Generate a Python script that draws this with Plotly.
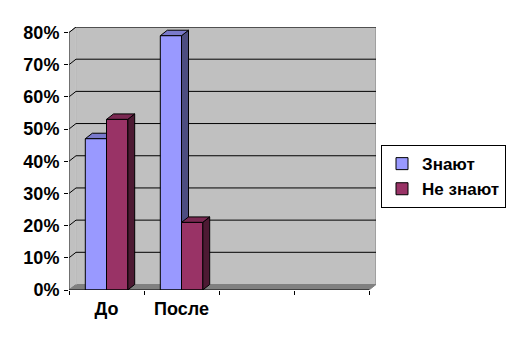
import plotly.graph_objects as go

categories = ["До", "После", "", ""]
series_names = ["Знают", "Не знают"]
znayut = [47, 79, None, None]
ne_znayut = [53, 21, None, None]
y_ticks = [0, 10, 20, 30, 40, 50, 60, 70, 80]
y_tick_labels = [f"{v}%" for v in y_ticks]

front_colors = ["#9999FF", "#993366"]
side_colors = ["#4D4D80", "#4D1A33"]
top_colors = ["#7A7ACC", "#7A2952"]

n = len(categories)
xs = [i + 0.5 for i in range(n)]
ymax = max(y_ticks)
DX = 7 / 75.0          # depth offset in x data units
DY = 5.5 / 32.19 * 10  # depth offset in y data units
BARGAP = 0.435
groupw = 1 - BARGAP
bw = groupw / 2

fig = go.Figure()
for k, (name, vals) in enumerate(zip(series_names, [znayut, ne_znayut])):
    fig.add_trace(go.Bar(
        x=xs, y=vals, name=name,
        marker=dict(color=front_colors[k], line=dict(color="black", width=1)),
    ))

shapes = []
# back wall
shapes.append(dict(type="rect", xref="x", yref="y", x0=DX, x1=n + DX, y0=DY, y1=ymax + DY,
                   fillcolor="#C0C0C0", line=dict(color="#808080", width=1), layer="below"))
# side wall
shapes.append(dict(type="path", xref="x", yref="y",
                   path=f"M0,0 L{DX},{DY} L{DX},{ymax+DY} L0,{ymax} Z",
                   fillcolor="#C0C0C0", line=dict(color="#808080", width=1), layer="below"))
# floor
shapes.append(dict(type="path", xref="x", yref="y",
                   path=f"M0,0 L{n},0 L{n+DX},{DY} L{DX},{DY} Z",
                   fillcolor="#808080", line=dict(color="#808080", width=1), layer="below"))
# back wall left edge highlight
shapes.append(dict(type="line", xref="x", yref="y", x0=DX, x1=DX, y0=DY, y1=ymax + DY,
                   line=dict(color="#E6E6E6", width=1), layer="below"))
# gridlines
for v in y_ticks[1:]:
    shapes.append(dict(type="line", xref="x", yref="y", x0=DX, x1=n + DX, y0=v + DY, y1=v + DY,
                       line=dict(color="black", width=1), layer="below"))
    shapes.append(dict(type="line", xref="x", yref="y", x0=0, x1=DX, y0=v, y1=v + DY,
                       line=dict(color="black", width=1), layer="below"))
# 3D faces of bars
for i, c in enumerate(xs):
    for k, vals in enumerate([znayut, ne_znayut]):
        v = vals[i]
        if v is None:
            continue
        xl = c - groupw / 2 + k * bw
        xr = xl + bw
        shapes.append(dict(type="path", xref="x", yref="y",
                           path=f"M{xr},0 L{xr+DX},{DY} L{xr+DX},{v+DY} L{xr},{v} Z",
                           fillcolor=side_colors[k], line=dict(color="black", width=1), layer="below"))
        shapes.append(dict(type="path", xref="x", yref="y",
                           path=f"M{xl},{v} L{xl+DX},{v+DY} L{xr+DX},{v+DY} L{xr},{v} Z",
                           fillcolor=top_colors[k], line=dict(color="black", width=1), layer="below"))
# front axis lines
shapes.append(dict(type="line", xref="x", yref="y", x0=0, x1=0, y0=0, y1=ymax,
                   line=dict(color="#404040", width=1), layer="above"))
shapes.append(dict(type="line", xref="x", yref="y", x0=0, x1=n, y0=0, y1=0,
                   line=dict(color="black", width=1), layer="above"))

plot_w = round((n + DX) * 75)
fig.update_layout(
    width=513, height=343,
    margin=dict(l=69, r=513 - 69 - plot_w, t=27, b=53, autoexpand=False),
    paper_bgcolor="white", plot_bgcolor="white",
    barmode="group", bargap=BARGAP, bargroupgap=0,
    font=dict(family="Liberation Sans, Arial, sans-serif", size=18, color="black", weight="bold"),
    shapes=shapes,
    showlegend=True,
    legend=dict(x=(381 - 69) / plot_w, y=0.551, xanchor="left", yanchor="top",
                bordercolor="black", borderwidth=1, bgcolor="white",
                font=dict(size=17), itemwidth=30, tracegroupgap=0),
    xaxis=dict(range=[0, n + DX], tickvals=xs, ticktext=categories, ticks="",
               showgrid=False, zeroline=False, showline=False, ticklabelstandoff=6,
               minor=dict(tickvals=list(range(n + 1)), ticks="outside", ticklen=4,
                          tickcolor="black", showgrid=False)),
    yaxis=dict(range=[0, ymax + DY], tickvals=y_ticks, ticktext=y_tick_labels,
               ticks="outside", ticklen=4, tickcolor="black", showgrid=False,
               zeroline=False, showline=False, ticklabelstandoff=1),
)

fig.write_html("out.html")
